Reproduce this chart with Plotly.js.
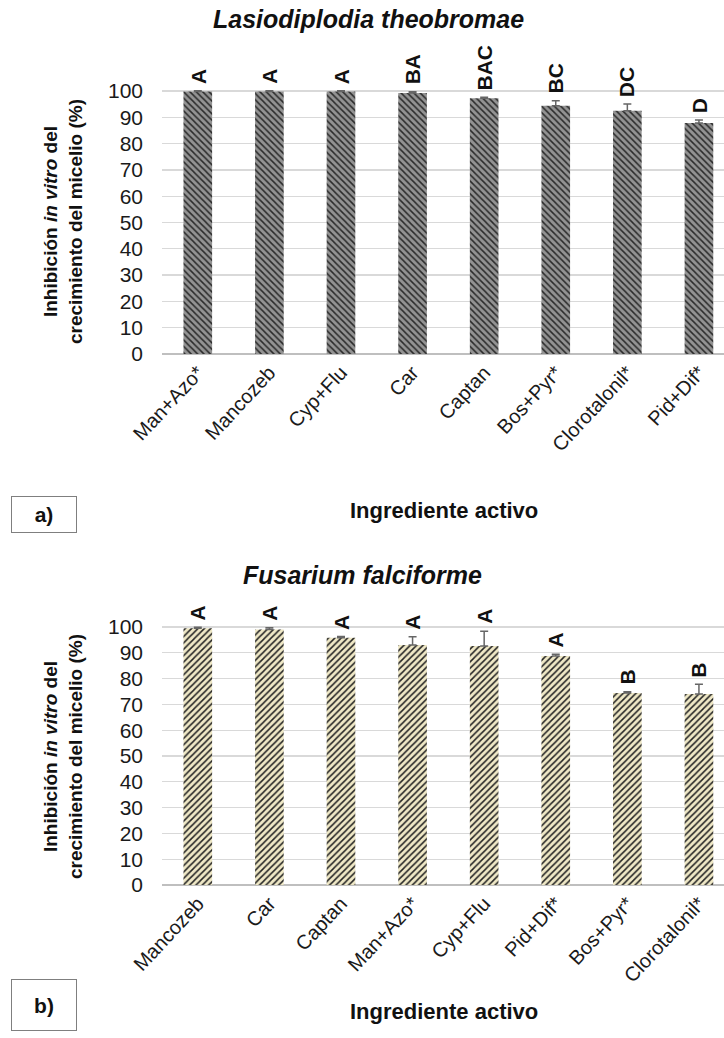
<!DOCTYPE html>
<html>
<head>
<meta charset="utf-8">
<script src="https://cdn.plot.ly/plotly-3.0.1.min.js"></script>
<style>html,body{margin:0;padding:0;background:#fff;}#chart{width:724px;height:1038px;}</style>
</head>
<body>
<div id="chart"></div>
<script>
// ---- data: chart a) Lasiodiplodia theobromae ----
const catsA = ["Man+Azo*", "Mancozeb", "Cyp+Flu", "Car", "Captan", "Bos+Pyr*", "Clorotalonil*", "Pid+Dif*"];
const valsA = [99.8, 99.8, 99.8, 99.2, 97.2, 94.4, 92.5, 87.8];
const errA = [0.3, 0.3, 0.3, 0.5, 0.4, 1.9, 2.6, 1.2];
const lettersA = ["A", "A", "A", "BA", "BAC", "BC", "DC", "D"];

// ---- data: chart b) Fusarium falciforme ----
const catsB = ["Mancozeb", "Car", "Captan", "Man+Azo*", "Cyp+Flu", "Pid+Dif*", "Bos+Pyr*", "Clorotalonil*"];
const valsB = [99.5, 99.0, 95.8, 93.0, 92.6, 88.8, 74.4, 74.0];
const errB = [0.4, 0.7, 0.5, 3.2, 5.8, 0.6, 0.5, 3.8];
const lettersB = ["A", "A", "A", "A", "A", "A", "B", "B"];

const titleA = "Lasiodiplodia theobromae";
const titleB = "Fusarium falciforme";
const xTitle = "Ingrediente activo";
const yTitle = "Inhibición <i>in vitro</i> del<br>crecimiento del micelio (%)";
const yTicks = [0, 10, 20, 30, 40, 50, 60, 70, 80, 90, 100];

const W = 724, H = 1038;
const px = v => v / W;
const py = v => 1 - v / H;
const FONT = "Liberation Sans, Arial, sans-serif";
const YMAX = 120;

function barTrace(cats, vals, errs, xa, ya, bg, fg, shape) {
  return {
    type: "bar",
    x: cats.map((c, i) => i),
    y: vals,
    xaxis: xa, yaxis: ya,
    width: 0.4,
    cliponaxis: false,
    marker: {
      color: bg,
      line: {width: 0},
      pattern: {shape: shape, bgcolor: bg, fgcolor: fg, size: 4.5, solidity: 0.33, fillmode: "replace"}
    },
    error_y: {type: "data", symmetric: false, array: errs, arrayminus: errs.map(() => 0),
              color: "#666666", thickness: 1.5, width: 4},
    hoverinfo: "skip",
    showlegend: false
  };
}

const traces = [
  barTrace(catsA, valsA, errA, "x", "y", "#939393", "#2a2a2a", "\\"),
  barTrace(catsB, valsB, errB, "x2", "y2", "#efe8c6", "#222222", "/")
];

function xaxisDef(cats, anchor) {
  return {
    domain: [px(162), 1],
    range: [-0.5, 7.35],
    anchor: anchor,
    tickmode: "array",
    tickvals: cats.map((c, i) => i),
    ticktext: cats,
    tickangle: -47,
    tickfont: {family: FONT, size: 20, color: "#1a1a1a"},
    showgrid: false,
    zeroline: false,
    showline: false,
    ticks: "",
    ticklabelstandoff: 2,
    fixedrange: true
  };
}
// hundredPx / zeroPx: pixel rows of the 100 and 0 gridlines
function yaxisDef(hundredPx, zeroPx, anchor) {
  const perUnit = (zeroPx - hundredPx) / 100;
  const topPx = zeroPx - perUnit * YMAX;
  return {
    domain: [py(zeroPx), py(topPx)],
    range: [0, YMAX],
    anchor: anchor,
    tickmode: "array",
    tickvals: yTicks,
    ticktext: yTicks.map(String),
    tickfont: {family: FONT, size: 21, color: "#1a1a1a"},
    showgrid: true,
    gridcolor: "#d9d9d9",
    gridwidth: 1.3,
    zeroline: true,
    zerolinecolor: "#bfbfbf",
    zerolinewidth: 1.3,
    showline: false,
    ticks: "",
    ticklabelstandoff: 18,
    fixedrange: true
  };
}

const annotations = [];
function letterAnns(vals, errs, letters, xref, yref) {
  letters.forEach((l, i) => {
    annotations.push({
      x: i, y: vals[i] + errs[i], xref: xref, yref: yref,
      text: "<b>" + l + "</b>", showarrow: false, textangle: -90,
      xanchor: "center", yanchor: "bottom", yshift: 5,
      font: {family: FONT, size: 21, color: "#111"}
    });
  });
}
letterAnns(valsA, errA, lettersA, "x", "y");
letterAnns(valsB, errB, lettersB, "x2", "y2");

function textAnn(text, x, y, size, opts) {
  annotations.push(Object.assign({
    x: px(x), y: py(y), xref: "paper", yref: "paper", text: text, showarrow: false,
    xanchor: "center", yanchor: "middle", font: {family: FONT, size: size, color: "#111"}
  }, opts || {}));
}
// titles
textAnn("<b><i>" + titleA + "</i></b>", 368, 19, 25);
textAnn("<b><i>" + titleB + "</i></b>", 362, 575, 25);
// x titles
textAnn("<b>" + xTitle + "</b>", 444, 510, 22);
textAnn("<b>" + xTitle + "</b>", 444, 1011, 22);
// y titles
textAnn("<b>" + yTitle + "</b>", 63, 222, 19, {textangle: -90});
textAnn("<b>" + yTitle + "</b>", 63, 757, 19, {textangle: -90});
// panel labels
textAnn("<b>a)</b>", 44, 514, 21, {bordercolor: "#7f7f7f", borderwidth: 1, width: 62, height: 33, bgcolor: "#fff"});
textAnn("<b>b)</b>", 44, 1005, 21, {bordercolor: "#7f7f7f", borderwidth: 1, width: 62, height: 48, bgcolor: "#fff"});

const layout = {
  width: W, height: H,
  margin: {l: 0, r: 0, t: 0, b: 0},
  paper_bgcolor: "#ffffff",
  plot_bgcolor: "rgba(0,0,0,0)",
  xaxis: xaxisDef(catsA, "y"),
  yaxis: yaxisDef(91, 354, "x"),
  xaxis2: xaxisDef(catsB, "y2"),
  yaxis2: yaxisDef(627, 885, "x2"),
  annotations: annotations,
  font: {family: FONT}
};

Plotly.newPlot("chart", traces, layout, {displayModeBar: false, staticPlot: true});
</script>
</body>
</html>
